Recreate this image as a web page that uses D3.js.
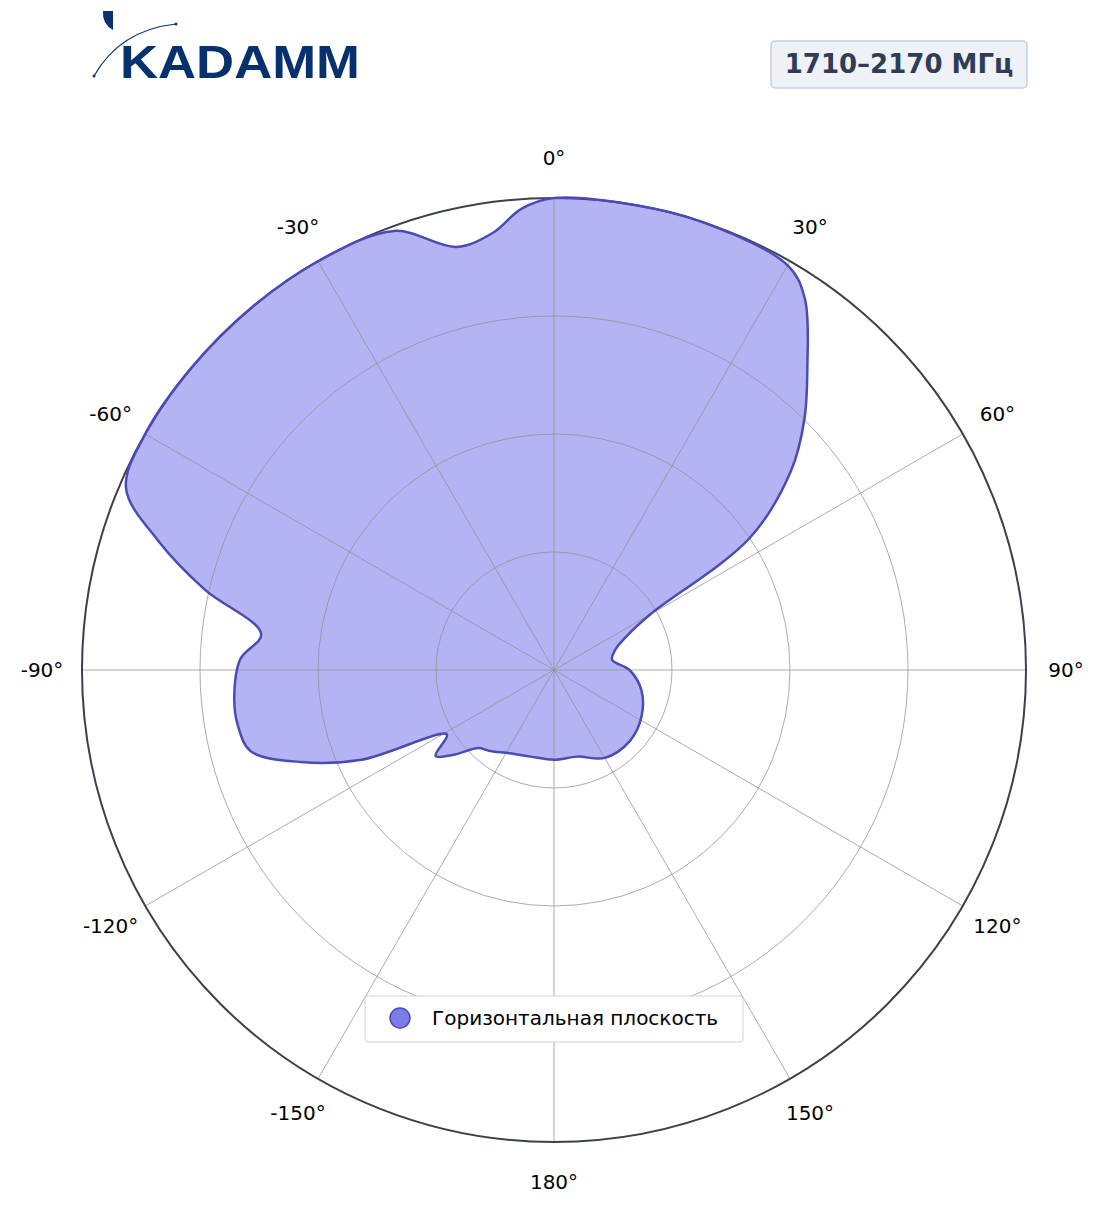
<!DOCTYPE html><html><head><meta charset="utf-8"><script src="https://cdn.jsdelivr.net/npm/d3@7"></script>
<style>body{margin:0;background:#fff;font-family:"DejaVu Sans",sans-serif}</style></head><body>
<svg id="c" width="1104" height="1211"></svg>
<script>
const angles=[0,10,18,30,34,40,45,50,56,60,65,72,80,90,103,118,133,150,165,180,195,208,219,224,230,234,239,245,250,255,260,265,272,277,283,288,293,300,310,320,330,340,347,352,356];
const values=[1.0,1.0,1.0,0.99,0.95,0.835,0.75,0.655,0.5,0.235,0.17,0.136,0.125,0.16,0.19,0.21,0.22,0.215,0.19,0.19,0.19,0.2,0.22,0.23,0.28,0.31,0.265,0.45,0.57,0.665,0.68,0.68,0.665,0.625,0.76,0.88,0.985,1.0,1.0,1.0,1.0,0.99,0.92,0.935,0.98];
const tickAngles=[0,30,60,90,120,150,180,-150,-120,-90,-60,-30];
const rings=[0.25,0.5,0.75];
const svg=d3.select("#c"),cx=554,cy=670,R=472;
const r=d3.scaleLinear().domain([0,1]).range([0,R]);
const a=d=>d*Math.PI/180;
const g=svg.append("g").attr("transform",`translate(${cx},${cy})`);
const pts=angles.map((d,i)=>[a(d),r(values[i])]);
const line=d3.lineRadial().curve(d3.curveCatmullRomClosed.alpha(0.5));
g.append("path").attr("d",line(pts)).attr("fill","#b4b4f5");
rings.forEach(v=>g.append("circle").attr("r",r(v)).attr("fill","none").attr("stroke","#909090").attr("stroke-opacity",0.75));
tickAngles.forEach(t=>{const x=r(1)*Math.sin(a(t)),y=-r(1)*Math.cos(a(t));
g.append("line").attr("x1",0).attr("y1",0).attr("x2",x).attr("y2",y).attr("stroke","#909090").attr("stroke-opacity",0.75);
const lr=R+40;g.append("text").attr("x",lr*Math.sin(a(t))).attr("y",-lr*Math.cos(a(t))).attr("text-anchor","middle").attr("dominant-baseline","central").attr("font-size",20).text(t+"°");});
g.append("circle").attr("r",R).attr("fill","none").attr("stroke","#3c4048").attr("stroke-width",2);
g.append("path").attr("d",line(pts)).attr("fill","none").attr("stroke","#4b4bb4").attr("stroke-width",2.5);
// legend
svg.append("rect").attr("x",365).attr("y",996).attr("width",378).attr("height",46).attr("rx",3).attr("fill","#fff").attr("stroke","#d0d4dc");
svg.append("circle").attr("cx",400).attr("cy",1018).attr("r",10).attr("fill","#7b7bea").attr("stroke","#4b4bb4").attr("stroke-width",1.5);
svg.append("text").attr("x",432).attr("y",1025).attr("font-size",20).text("Горизонтальная плоскость");
// title box
svg.append("rect").attr("x",771).attr("y",41).attr("width",256).attr("height",47).attr("rx",4).attr("fill","#eef1f6").attr("stroke","#c8d0de").attr("stroke-width",1.5);
svg.append("text").attr("x",899).attr("y",73).attr("text-anchor","middle").attr("font-size",26).attr("font-weight","bold").attr("fill","#2e3d55").text("1710–2170 МГц");
// logo
svg.append("text").attr("x",120).attr("y",78).attr("font-size",46).attr("font-weight","bold").attr("fill","#06306e").attr("font-family","Liberation Sans, sans-serif").attr("textLength",240).attr("lengthAdjust","spacingAndGlyphs").text("KADAMM");
svg.append("path").attr("d","M94,76 Q120,30 176,24").attr("fill","none").attr("stroke","#06306e").attr("stroke-width",1.2);
svg.append("circle").attr("cx",94).attr("cy",76).attr("r",1.5).attr("fill","#06306e");
svg.append("circle").attr("cx",176).attr("cy",24).attr("r",1.5).attr("fill","#06306e");
svg.append("path").attr("d","M103,11 L113,11 L113,30 Q102,24 103,11Z").attr("fill","#06306e");
</script></body></html>
